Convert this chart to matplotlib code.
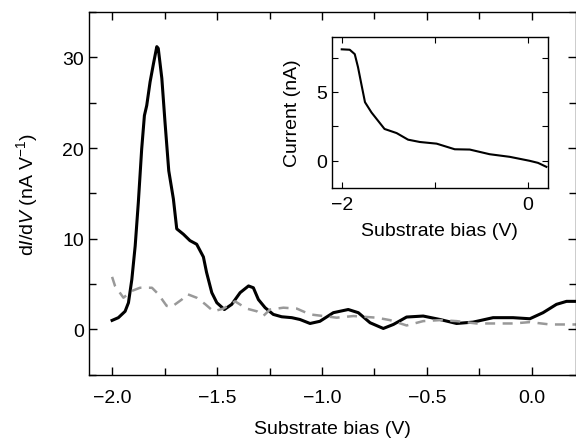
import numpy as np
import matplotlib
matplotlib.use('Agg')
from matplotlib import pyplot as plt
from matplotlib.ticker import MultipleLocator, FixedLocator

plt.rcParams['font.family'] = ['Liberation Sans', 'DejaVu Sans']
plt.rcParams['mathtext.fontset'] = 'custom'
plt.rcParams['mathtext.rm'] = 'Liberation Sans'
plt.rcParams['mathtext.it'] = 'Liberation Sans:italic'

# dI/dV spectrum (solid black)
bias_on = [-2.0, -1.97, -1.938, -1.922, -1.906, -1.89, -1.875, -1.859, -1.846,
           -1.835, -1.819, -1.803, -1.787, -1.78, -1.763, -1.748, -1.73, -1.708,
           -1.692, -1.66, -1.629, -1.597, -1.565, -1.55, -1.525, -1.501, -1.465,
           -1.43, -1.39, -1.35, -1.327, -1.303, -1.271, -1.232, -1.192, -1.144,
           -1.105, -1.057, -1.01, -0.946, -0.875, -0.827, -0.771, -0.708, -0.66,
           -0.597, -0.518, -0.438, -0.359, -0.28, -0.185, -0.09, -0.01, 0.053,
           0.117, 0.165, 0.21]
didv_on = [1.0, 1.3, 2.0, 2.95, 5.5, 9.2, 14.0, 19.9, 23.6,
           24.7, 27.3, 29.3, 31.2, 31.0, 27.7, 22.9, 17.5, 14.4,
           11.1, 10.5, 9.8, 9.4, 8.0, 6.3, 4.06, 2.95, 2.2,
           2.77, 4.06, 4.8, 4.6, 3.3, 2.4, 1.66, 1.4, 1.3,
           1.1, 0.66, 0.9, 1.85, 2.2, 1.85, 0.74, 0.11, 0.55,
           1.37, 1.48, 1.1, 0.66, 0.81, 1.3, 1.3, 1.18, 1.85,
           2.77, 3.1, 3.1]

# dI/dV reference spectrum (grey dashed)
bias_off = [-2.0, -1.986, -1.946, -1.906, -1.867, -1.81, -1.78, -1.74, -1.716,
            -1.668, -1.642, -1.597, -1.557, -1.517, -1.47, -1.414, -1.359, -1.31,
            -1.279, -1.248, -1.184, -1.12, -1.057, -0.93, -0.85, -0.74, -0.676,
            -0.597, -0.518, -0.438, -0.359, -0.264, -0.168, -0.09, -0.01, 0.086,
            0.18, 0.21]
didv_off = [5.8, 4.8, 3.5, 4.25, 4.6, 4.6, 3.9, 2.6, 2.5,
            3.3, 3.9, 3.5, 2.8, 2.0, 2.3, 3.1, 2.3, 2.0,
            1.5, 2.2, 2.4, 2.3, 1.66, 1.3, 1.48, 1.3, 1.03,
            0.44, 0.92, 1.03, 0.92, 0.66, 0.66, 0.66, 0.81, 0.55,
            0.55, 0.55]

# inset I-V curve
bias_iv = [-2.0, -1.914, -1.86, -1.825, -1.79, -1.75, -1.68, -1.61, -1.54, -1.41,
           -1.287, -1.16, -0.98, -0.785, -0.624, -0.41, -0.194, 0.02, 0.11, 0.2]
current = [8.1, 8.07, 7.75, 6.8, 5.6, 4.25, 3.5, 2.9, 2.3, 2.0,
           1.52, 1.35, 1.23, 0.82, 0.8, 0.46, 0.27, -0.02, -0.17, -0.46]

fig = plt.figure(figsize=(5.76, 4.39), dpi=100)
ax = fig.add_axes([0.1545, 0.144, 0.8455, 0.826])
ax.plot(bias_on, didv_on, color='black', lw=2.2, solid_joinstyle='round')
ax.plot(bias_off, didv_off, color='#999999', lw=1.8, dashes=(4, 3))
ax.set_xlim(-2.11, 0.21)
ax.set_ylim(-5, 35)
ax.xaxis.set_major_locator(FixedLocator([-2.0, -1.5, -1.0, -0.5, 0.0]))
ax.xaxis.set_minor_locator(MultipleLocator(0.25))
ax.yaxis.set_major_locator(FixedLocator([0, 10, 20, 30]))
ax.yaxis.set_minor_locator(MultipleLocator(5))
ax.set_xticklabels(['−2.0', '−1.5', '−1.0', '−0.5', '0.0'])
ax.tick_params(which='both', direction='in', top=True, right=True, labelsize=14, width=1)
ax.tick_params(which='major', length=6)
ax.tick_params(which='minor', length=5)
ax.tick_params(axis='x', pad=10)
ax.set_xlabel('Substrate bias (V)', fontsize=14, labelpad=10)
ax.set_ylabel(r'd$\mathit{I}$/d$\mathit{V}$ (nA V$^{-1}$)', fontsize=14, labelpad=16)
for s in ax.spines.values():
    s.set_linewidth(1.0)

ins = fig.add_axes([0.576, 0.5695, 0.375, 0.344])
ins.plot(bias_iv, current, color='black', lw=1.5, solid_joinstyle='round')
ins.set_xlim(-2.107, 0.215)
ins.set_ylim(-2, 9)
ins.xaxis.set_major_locator(FixedLocator([-2, 0]))
ins.xaxis.set_minor_locator(FixedLocator([-1]))
ins.yaxis.set_major_locator(FixedLocator([0, 5]))
ins.yaxis.set_minor_locator(FixedLocator([2.5, 7.5]))
ins.set_xticklabels(['−2', '0'])
ins.tick_params(which='both', direction='in', top=True, right=True, labelsize=14,
                width=0.8, length=4)
ins.tick_params(axis='x', pad=6)
ins.set_xlabel('Substrate bias (V)', fontsize=14, labelpad=6)
ins.set_ylabel('Current (nA)', fontsize=14, labelpad=11)
for s in ins.spines.values():
    s.set_linewidth(1.0)

fig.savefig('out.png', dpi=100)
